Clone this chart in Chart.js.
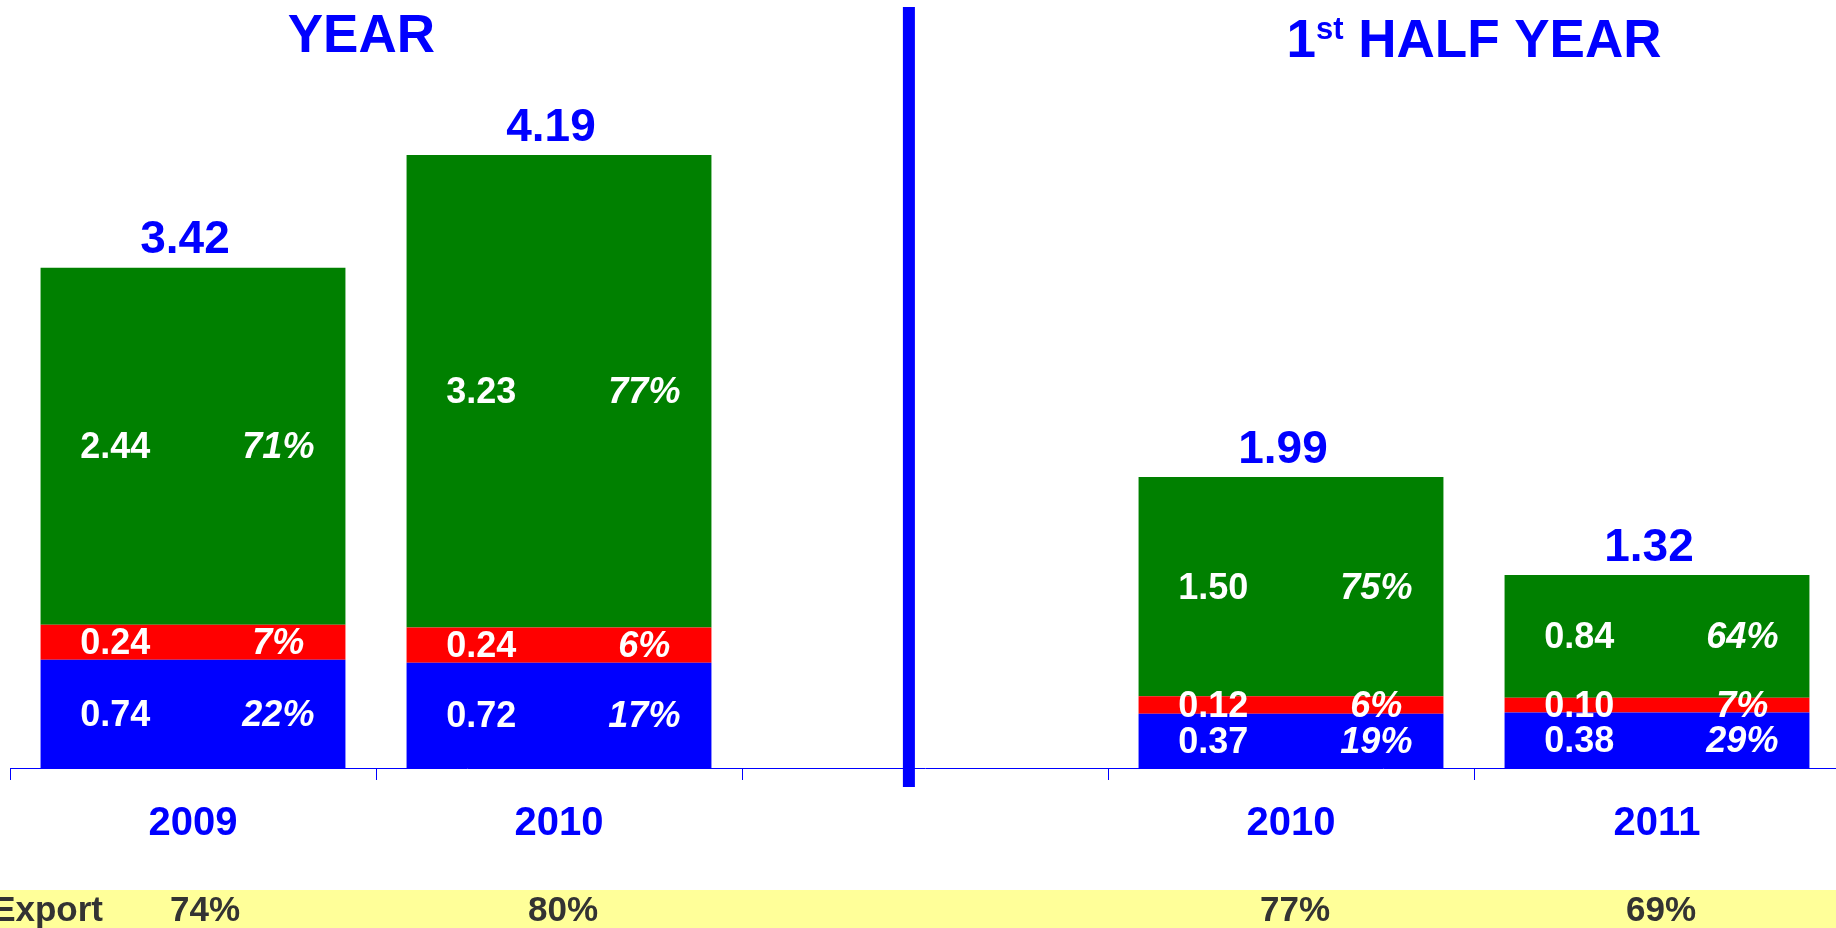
<!DOCTYPE html>
<html>
<head>
<meta charset="utf-8">
<script src="https://cdn.jsdelivr.net/npm/chart.js@4"></script>
<style>
  html, body { margin: 0; padding: 0; background: #fff; overflow: hidden; }
  #wrap { width: 1836px; height: 928px; overflow: hidden; }
</style>
</head>
<body>
<div id="wrap"><canvas id="myChart" width="1850" height="928"></canvas></div>
<script>
// categories (the empty one is the gap holding the divider)
const categories = ['2009', '2010', '', '2010', '2011'];
// stacked segments, bottom to top
const blueValues  = [0.74, 0.72, null, 0.37, 0.38];
const redValues   = [0.24, 0.24, null, 0.12, 0.10];
const greenValues = [2.44, 3.23, null, 1.50, 0.84];
// share of each segment
const bluePct  = ['22%', '17%', '', '19%', '29%'];
const redPct   = ['7%', '6%', '', '6%', '7%'];
const greenPct = ['71%', '77%', '', '75%', '64%'];
// totals on top of bars
const totals = ['3.42', '4.19', '', '1.99', '1.32'];
// export row
const exportPct = ['74%', '80%', '', '77%', '69%'];

const fam = '"Liberation Sans", Arial, Helvetica, sans-serif';
const BLUE = '#0000FF';
const pctLists = [bluePct, redPct, greenPct];

const decoPlugin = {
  id: 'deco',
  afterDatasetsDraw(chart) {
    const ctx = chart.ctx;
    ctx.save();
    ctx.textBaseline = 'middle';
    ctx.textAlign = 'center';
    // labels inside the segments
    chart.data.datasets.forEach((ds, di) => {
      const meta = chart.getDatasetMeta(di);
      meta.data.forEach((bar, i) => {
        if (ds.data[i] == null) return;
        const left = bar.x - bar.width / 2;
        const cy = (bar.y + bar.base) / 2 + 2;
        ctx.fillStyle = '#fff';
        ctx.font = 'bold 36px ' + fam;
        ctx.fillText(ds.data[i].toFixed(2), left + bar.width * 0.245, cy);
        ctx.font = 'italic bold 36px ' + fam;
        ctx.fillText(pctLists[di][i], left + bar.width * 0.78, cy);
      });
    });
    // totals above the top segment
    const topMeta = chart.getDatasetMeta(2);
    topMeta.data.forEach((bar, i) => {
      if (!totals[i]) return;
      ctx.fillStyle = BLUE;
      ctx.font = 'bold 46px ' + fam;
      ctx.fillText(totals[i], bar.x - 8, bar.y - 27);
    });
    ctx.restore();
  },
  afterDraw(chart) {
    const ctx = chart.ctx;
    const xs = chart.scales.x;
    ctx.save();
    // divider between full year and half year
    const dx = xs.getPixelForValue(1.956);
    ctx.fillStyle = BLUE;
    ctx.fillRect(dx - 6, 7, 12, xs.top + 19 - 7);

    // titles
    ctx.textBaseline = 'alphabetic';
    ctx.font = 'bold 53px ' + fam;
    ctx.textAlign = 'center';
    ctx.fillText('YEAR', xs.getPixelForValue(0.46), 52);

    const cx = xs.getPixelForValue(3.5);
    const big = 'bold 53px ' + fam, small = 'bold 31px ' + fam;
    ctx.font = big;
    const w1 = ctx.measureText('1').width;
    const w3 = ctx.measureText(' HALF YEAR').width;
    ctx.font = small;
    const w2 = ctx.measureText('st').width;
    let x = cx - (w1 + w2 + w3) / 2;
    ctx.textAlign = 'left';
    ctx.font = big;
    ctx.fillText('1', x, 57);
    x += w1;
    ctx.font = small;
    ctx.fillText('st', x, 39);
    x += w2;
    ctx.font = big;
    ctx.fillText(' HALF YEAR', x, 57);

    // export band
    const bandTop = chart.height - 38;
    ctx.fillStyle = '#FFFF99';
    ctx.fillRect(0, bandTop, chart.width, 38);
    ctx.fillStyle = '#333333';
    ctx.font = 'bold 35px ' + fam;
    ctx.textBaseline = 'middle';
    ctx.textAlign = 'right';
    ctx.fillText('Export', xs.left + 93, bandTop + 21);
    ctx.textAlign = 'center';
    exportPct.forEach((t, i) => {
      if (!t) return;
      ctx.fillText(t, xs.getPixelForValue(i) + (i === 0 ? 12 : 4), bandTop + 21);
    });
    ctx.restore();
  }
};

const ctx = document.getElementById('myChart').getContext('2d');
const myChart = new Chart(ctx, {
  type: 'bar',
  data: {
    labels: categories,
    datasets: [
      { data: blueValues, backgroundColor: '#0000FF' },
      { data: redValues, backgroundColor: '#FF0000' },
      { data: greenValues, backgroundColor: '#008000' }
    ]
  },
  options: {
    responsive: false,
    animation: false,
    devicePixelRatio: 1,
    categoryPercentage: 1,
    barPercentage: 0.833,
    layout: { padding: { left: 10, right: 10, top: 0, bottom: 60 } },
    plugins: {
      legend: { display: false },
      tooltip: { enabled: false }
    },
    scales: {
      x: {
        stacked: true,
        grid: {
          offset: true,
          drawOnChartArea: false,
          drawTicks: true,
          tickLength: 12,
          color: BLUE,
          lineWidth: 1
        },
        border: { display: true, color: BLUE, width: 1 },
        ticks: {
          color: BLUE,
          padding: 20,
          font: { family: fam, size: 40, weight: 'bold' }
        }
      },
      y: {
        stacked: true,
        display: false,
        min: 0,
        max: 5.25
      }
    }
  },
  plugins: [decoPlugin]
});
</script>
</body>
</html>
